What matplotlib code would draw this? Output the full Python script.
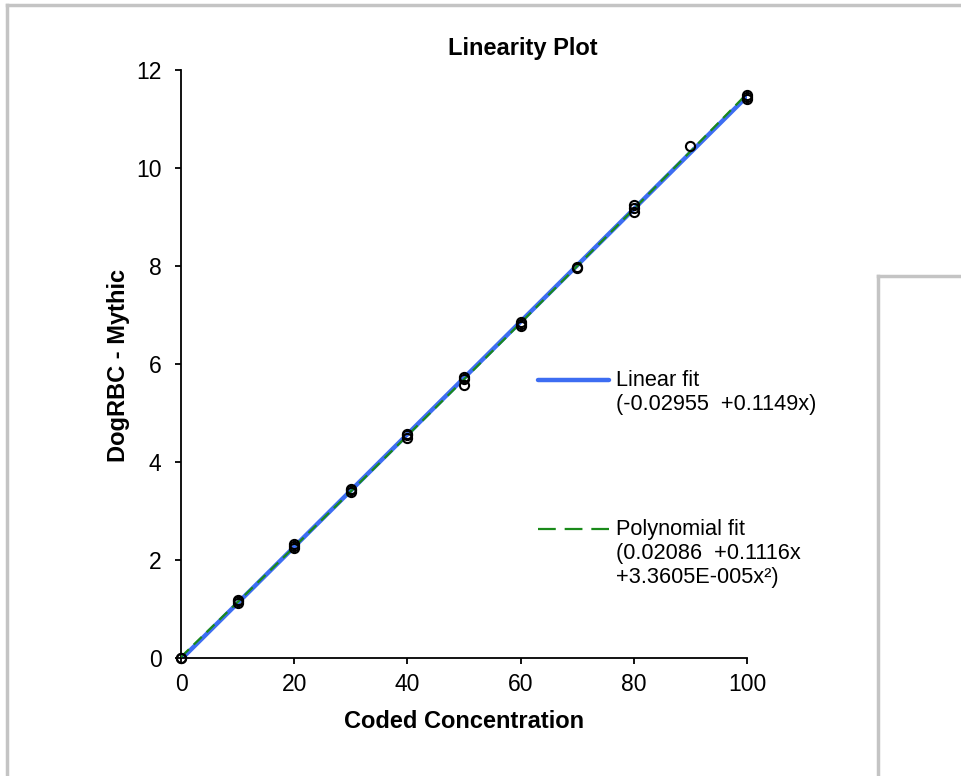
import matplotlib.pyplot as plt
import numpy as np
from matplotlib.lines import Line2D

plt.rcParams['font.family'] = ['Liberation Sans', 'DejaVu Sans']

# replicate measurements per coded concentration level
conc = [0, 0, 10, 10, 10, 20, 20, 20, 30, 30, 30, 40, 40, 40,
        50, 50, 50, 60, 60, 60, 70, 70, 80, 80, 80, 90, 100, 100, 100]
measured = [0.0, 0.0, 1.13, 1.17, 1.19, 2.24, 2.28, 2.33, 3.39, 3.42, 3.45,
            4.50, 4.55, 4.58, 5.58, 5.70, 5.73, 6.77, 6.82, 6.85, 7.95, 7.97,
            9.10, 9.18, 9.25, 10.45, 11.40, 11.45, 11.50]

lin_coef = [-0.02955, 0.1149]
poly_coef = [0.02086, 0.1116, 3.3605e-05]

lin_label = 'Linear fit\n(-0.02955  +0.1149x)'
poly_label = 'Polynomial fit\n(0.02086  +0.1116x\n+3.3605E-005x\u00b2)'

BLUE = '#3D6DF2'
GREEN = '#1A8A1A'

W, H = 961, 776
fig = plt.figure(figsize=(W / 100, H / 100), dpi=100)
ax = fig.add_axes([181 / W, 1 - 658 / H, 566 / W, 588 / H])

xs = np.linspace(0, 100, 201)
ax.plot(xs, lin_coef[0] + lin_coef[1] * xs, color=BLUE, lw=3.2,
        solid_capstyle='round', zorder=2)
ax.plot(xs, poly_coef[0] + poly_coef[1] * xs + poly_coef[2] * xs ** 2,
        color=GREEN, lw=1.6, dashes=(5, 3), zorder=3)
ax.plot(conc, measured, 'o', ms=6.6, mfc='none', mec='black', mew=1.5,
        ls='none', clip_on=False, zorder=4)

ax.set_xlim(0, 100)
ax.set_ylim(0, 12)
ax.set_xticks(range(0, 101, 20))
ax.set_yticks(range(0, 13, 2))
for s in ('top', 'right'):
    ax.spines[s].set_visible(False)
for s in ('left', 'bottom'):
    ax.spines[s].set_linewidth(1.3)
ax.tick_params(direction='out', length=4, width=1.3, labelsize=16.5)
ax.tick_params(axis='x', pad=7)
ax.tick_params(axis='y', pad=10)

ax.set_xlabel('Coded Concentration', fontsize=17, fontweight='bold',
              va='center', ha='center')
ax.xaxis.set_label_coords(0.5, (658 - 721) / 588)
ax.set_ylabel('DogRBC - Mythic', fontsize=17, fontweight='bold',
              va='center', ha='center')
ax.yaxis.set_label_coords((118 - 181) / 566, 0.498)
fig.text(523 / W, 1 - 48 / H, 'Linearity Plot', fontsize=17, fontweight='bold',
         ha='center', va='center')

# legend: handle sits beside the first line of each label
for y0, lbl, style in [(380, lin_label, dict(color=BLUE, lw=3.2, solid_capstyle='round')),
                       (529, poly_label, dict(color=GREEN, lw=1.6, dashes=(8, 4)))]:
    fig.add_artist(Line2D([538 / W, 609 / W], [1 - y0 / H, 1 - y0 / H],
                          transform=fig.transFigure, **style))
    fig.text(616 / W, 1 - (y0 - 10) / H, lbl, fontsize=15.7, ha='left', va='top',
             linespacing=1.18)

# panel borders
border = dict(color='#C4C4C4', lw=2.5, transform=fig.transFigure, clip_on=False)
fig.add_artist(Line2D([7 / W, 1], [1 - 5 / H, 1 - 5 / H], **border))
fig.add_artist(Line2D([7 / W, 7 / W], [1 - 5 / H, 0], **border))
fig.add_artist(Line2D([878 / W, 1], [1 - 276 / H, 1 - 276 / H], **border))
fig.add_artist(Line2D([878 / W, 878 / W], [1 - 276 / H, 0], **border))

fig.savefig('out.png', dpi=100)
